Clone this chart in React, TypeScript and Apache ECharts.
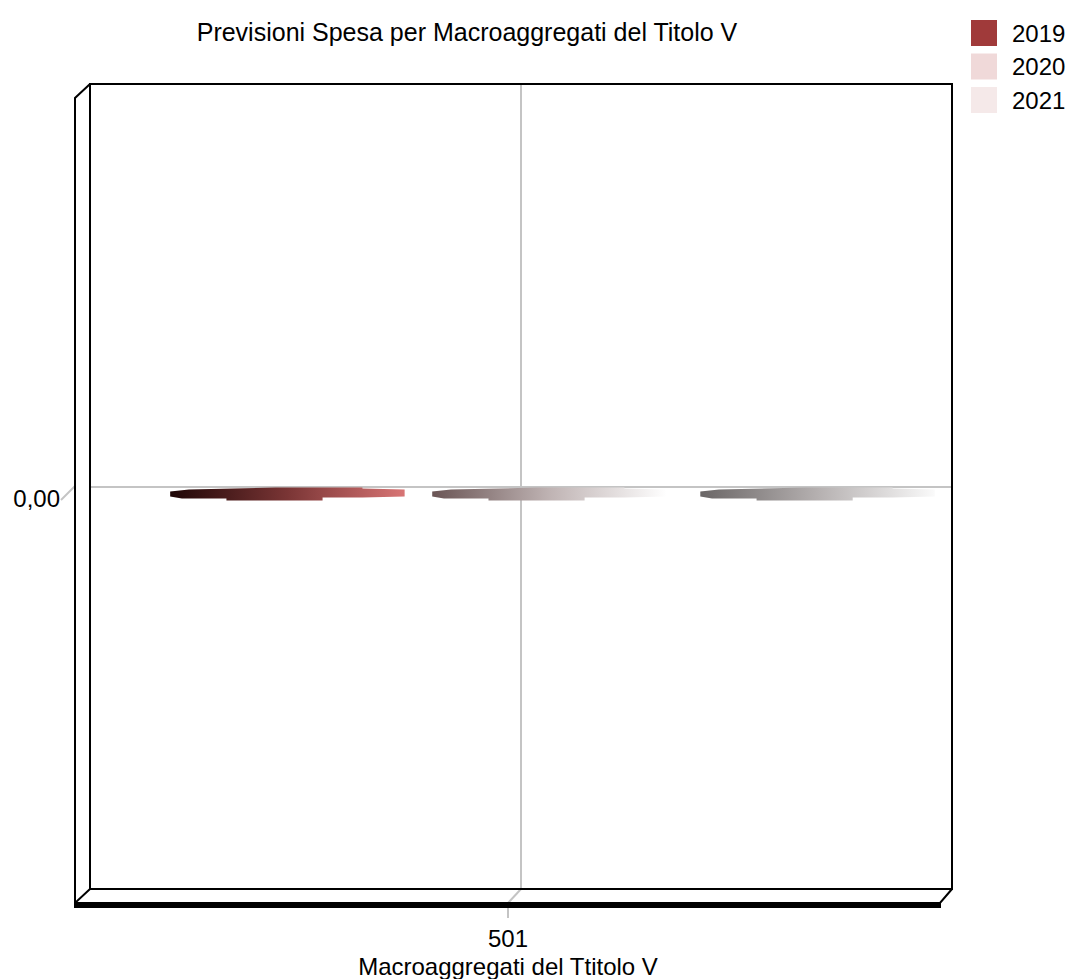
import React, { useEffect, useRef } from "react";
import * as echarts from "echarts";

const categories = ["501"];
const seriesNames = ["2019", "2020", "2021"];
const values2019 = [0];
const values2020 = [0];
const values2021 = [0];
const yTickLabels = ["0,00"];

const legendColors = ["#a03a3a", "#f0d9d9", "#f5e9e9"];
const gradients = [
  ["#1e0606", "#7a3535", "#d87575"],
  ["#6a5555", "#bfb3b3", "#ffffff"],
  ["#6a6666", "#b5b0b0", "#fafafa"],
];
// bar placement within the category band (fraction of band width)
const barOffsets = [-0.407, -0.103, 0.208];
const barWidthFrac = 0.272;

const FONT = "Liberation Sans, Arial, sans-serif";

function makeRender(idx: number) {
  return (params: any, api: any) => {
    const p = api.coord([api.value(0), api.value(1)]);
    const band = api.size([1, 0])[0];
    const left = p[0] + band * barOffsets[idx];
    const w = band * barWidthFrac;
    const y0 = p[1];
    const pts: [number, number][] = [
      [0, 5], [0.08, 3], [0.45, 1], [0.82, 1], [0.82, 2], [1, 3],
      [1, 10], [0.82, 11], [0.65, 11], [0.65, 14], [0.24, 14], [0.24, 12], [0.05, 12], [0, 10],
    ];
    const g = gradients[idx];
    return {
      type: "polygon",
      shape: { points: pts.map(([fx, dy]) => [left + fx * w, y0 + dy]) },
      style: {
        fill: new echarts.graphic.LinearGradient(0, 0, 1, 0, [
          { offset: 0, color: g[0] },
          { offset: 0.5, color: g[1] },
          { offset: 1, color: g[2] },
        ]),
      },
    };
  };
}

export default function App() {
  const ref = useRef<HTMLDivElement>(null);
  useEffect(() => {
    document.body.style.margin = "0";
    const chart = echarts.init(ref.current!, null, { renderer: "svg" });
    const allValues = [values2019, values2020, values2021];
    const frameStyle = { stroke: "#000", lineWidth: 2, fill: "none" };
    const gray = { stroke: "#c4c4c4", lineWidth: 2 };
    chart.setOption({
      animation: false,
      backgroundColor: "#fff",
      title: {
        text: "Previsioni Spesa per Macroaggregati del Titolo V",
        left: 462,
        textAlign: "center",
        top: 14,
        textStyle: { fontFamily: FONT, fontSize: 25, fontWeight: "normal", color: "#000" },
      },
      legend: {
        orient: "vertical",
        left: 971,
        top: 20,
        padding: 0,
        itemWidth: 26,
        itemHeight: 26,
        itemGap: 7.5,
        icon: "rect",
        data: seriesNames,
        textStyle: { fontFamily: FONT, fontSize: 24, color: "#000", padding: [0, 0, 0, 10] },
      },
      grid: { left: 90, top: 84, width: 862, height: 805, outerBoundsMode: "none", containLabel: false },
      xAxis: [
        {
          type: "category",
          data: categories,
          axisLine: { show: false },
          axisTick: { show: false },
          splitLine: { show: false },
          axisLabel: {
            fontFamily: FONT,
            fontSize: 24,
            color: "#000",
            margin: 37,
            padding: [0, 26, 0, 0],
          },
          name: "Macroaggregati del Ttitolo V",
          nameLocation: "middle",
          nameGap: 64,
          nameTextStyle: { fontFamily: FONT, fontSize: 24, color: "#000", padding: [0, 26, 0, 0] },
        },
        {
          type: "value",
          min: 0,
          max: 2,
          interval: 1,
          show: true,
          position: "top",
          axisLine: { show: false },
          axisTick: { show: false },
          axisLabel: { show: false },
          splitLine: { show: true, lineStyle: { color: "#c4c4c4", width: 2 } },
        },
      ],
      yAxis: {
        type: "value",
        min: -1,
        max: 1,
        interval: 1,
        axisLine: { show: false },
        axisTick: { show: false },
        splitLine: { show: true, lineStyle: { color: "#c4c4c4", width: 2 } },
        axisLabel: {
          fontFamily: FONT,
          fontSize: 24,
          color: "#000",
          margin: 30,
          verticalAlign: "top",
          formatter: (v: number) => (v === 0 ? yTickLabels[0] : ""),
        },
      },
      series: seriesNames.map((name, i) => ({
        type: "custom",
        name,
        xAxisIndex: 0,
        data: categories.map((c, k) => [c, allValues[i][k]]),
        itemStyle: { color: legendColors[i] },
        renderItem: makeRender(i),
        z: 5,
      })),
      graphic: [
        { type: "rect", z: 100, shape: { x: 90, y: 84, width: 862, height: 805 }, style: frameStyle },
        { type: "polyline", z: 100, shape: { points: [[90, 84], [75, 98], [75, 903], [90, 889]] }, style: frameStyle },
        { type: "polyline", z: 100, shape: { points: [[75, 903], [940, 903], [952, 889]] }, style: frameStyle },
        { type: "line", z: 100, shape: { x1: 74, y1: 905.5, x2: 941, y2: 905.5 }, style: { stroke: "#000", lineWidth: 5 } },
        { type: "line", z: 50, shape: { x1: 521, y1: 889, x2: 508, y2: 903 }, style: gray },
        { type: "line", z: 50, shape: { x1: 508, y1: 907, x2: 508, y2: 918 }, style: gray },
        { type: "line", z: 50, shape: { x1: 61, y1: 500, x2: 75, y2: 486 }, style: gray },
      ],
    });
    return () => chart.dispose();
  }, []);
  return <div ref={ref} style={{ width: 1073, height: 979 }} />;
}
